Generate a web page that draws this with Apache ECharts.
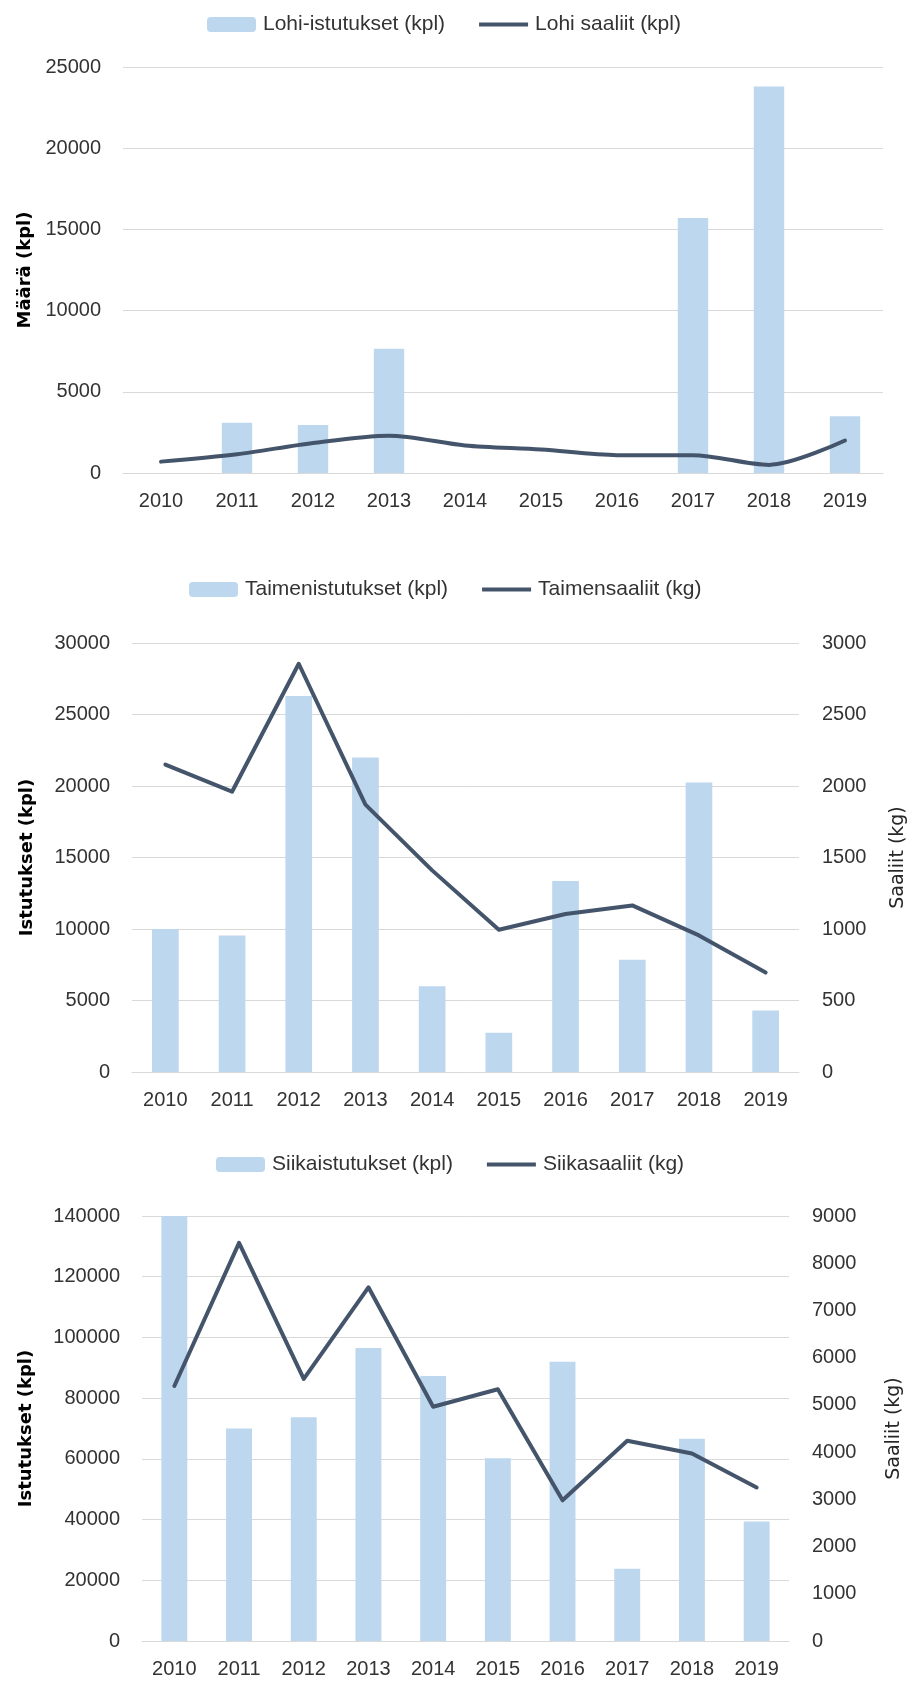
<!DOCTYPE html>
<html>
<head>
<meta charset="utf-8">
<script src="https://cdn.jsdelivr.net/npm/echarts@6/dist/echarts.min.js"></script>
<style>
  html, body { margin: 0; padding: 0; background: #fff; }
  #chart { width: 907px; height: 1684px; }
</style>
</head>
<body>
<div id="chart"></div>
<script>
// vuodet
const years = ['2010', '2011', '2012', '2013', '2014', '2015', '2016', '2017', '2018', '2019']

// Lohi
const lohiIstutukset = [null, 3100, 2950, 7650, null, null, null, 15700, 23800, 3500]
const lohiSaaliit = [700, 1150, 1850, 2300, 1700, 1450, 1100, 1100, 500, 2000]

// Taimen
const taimenIstutukset = [10000, 9550, 26300, 22000, 6000, 2750, 13350, 7850, 20250, 4300]
const taimenSaaliit = [2150, 1960, 2855, 1870, 1410, 995, 1105, 1165, 955, 695]

// Siika
const siikaIstutukset = [140000, 70000, 73700, 96500, 87300, 60200, 92000, 23800, 66600, 39400]
const siikaSaaliit = [5400, 8430, 5550, 7490, 4960, 5330, 2980, 4240, 3970, 3250]

const BAR_COLOR = '#BDD7EE'
const LINE_COLOR = '#44546A'
const GRID_COLOR = '#D9D9D9'
const TEXT_COLOR = '#333333'
const FONT = 'Liberation Sans'
// ohut viiva legendaan (ilman pistettä)
const LINE_ICON = 'path://M0,0 L53,0 L53,4.5 L0,4.5 Z'

const chart = echarts.init(document.getElementById('chart'), null, { renderer: 'canvas' })

const plain = v => String(v)

const xAxisFor = gridIndex => ({
  type: 'category',
  gridIndex,
  data: years,
  axisTick: { show: false },
  axisLine: { show: true, lineStyle: { color: GRID_COLOR, width: 1 } },
  axisLabel: { color: TEXT_COLOR, fontSize: 20, fontFamily: FONT, margin: 18, interval: 0 }
})

const leftAxis = (gridIndex, max, interval, name, nameGap) => ({
  type: 'value',
  gridIndex,
  min: 0,
  max,
  interval,
  name,
  nameLocation: 'middle',
  nameGap,
  nameTextStyle: { color: '#000', fontSize: 18, fontWeight: 'bold', fontFamily: 'DejaVu Sans' },
  axisLine: { show: false },
  axisTick: { show: false },
  axisLabel: { color: TEXT_COLOR, fontSize: 20, fontFamily: FONT, margin: 22, formatter: plain },
  splitLine: { show: true, lineStyle: { color: GRID_COLOR, width: 1 } }
})

const rightAxis = (gridIndex, max, interval, name, nameGap) => ({
  type: 'value',
  gridIndex,
  position: 'right',
  min: 0,
  max,
  interval,
  name,
  nameLocation: 'middle',
  nameGap,
  nameTextStyle: { color: '#262626', fontSize: 19, fontFamily: 'DejaVu Sans' },
  axisLine: { show: false },
  axisTick: { show: false },
  axisLabel: { color: TEXT_COLOR, fontSize: 20, fontFamily: FONT, margin: 23, formatter: plain },
  splitLine: { show: false }
})

const legendFor = (left, top, barName, lineName) => ({
  left,
  top,
  padding: 0,
  itemWidth: 49,
  itemHeight: 15,
  itemGap: 34,
  data: [barName, { name: lineName, icon: LINE_ICON }],
  textStyle: { color: TEXT_COLOR, fontSize: 21, fontFamily: FONT, padding: [0, 0, 0, 2] }
})

const barSeries = (name, xAxisIndex, yAxisIndex, data) => ({
  name,
  type: 'bar',
  xAxisIndex,
  yAxisIndex,
  data,
  barWidth: '40%',
  itemStyle: { color: BAR_COLOR },
  emphasis: { disabled: true }
})

const lineSeries = (name, xAxisIndex, yAxisIndex, data, smooth) => ({
  name,
  type: 'line',
  xAxisIndex,
  yAxisIndex,
  data,
  smooth,
  symbol: 'none',
  lineStyle: { color: LINE_COLOR, width: 4, cap: 'round', join: 'round' },
  itemStyle: { color: LINE_COLOR },
  emphasis: { disabled: true }
})

const option = {
  animation: false,
  backgroundColor: '#fff',
  legend: [
    legendFor(207, 14, 'Lohi-istutukset (kpl)', 'Lohi saaliit (kpl)'),
    legendFor(189, 579, 'Taimenistutukset (kpl)', 'Taimensaaliit (kg)'),
    legendFor(216, 1154, 'Siikaistutukset (kpl)', 'Siikasaaliit (kg)')
  ],
  grid: [
    { left: 123, right: 24, top: 67, height: 406, outerBoundsMode: 'none' },
    { left: 132, right: 108, top: 643, height: 429, outerBoundsMode: 'none' },
    { left: 142, right: 118, top: 1216, height: 425, outerBoundsMode: 'none' }
  ],
  xAxis: [xAxisFor(0), xAxisFor(1), xAxisFor(2)],
  yAxis: [
    leftAxis(0, 25000, 5000, 'Määrä (kpl)', 89),
    leftAxis(1, 30000, 5000, 'Istutukset (kpl)', 96),
    rightAxis(1, 3000, 500, 'Saaliit (kg)', 90),
    leftAxis(2, 140000, 20000, 'Istutukset (kpl)', 107),
    rightAxis(2, 9000, 1000, 'Saaliit (kg)', 96)
  ],
  series: [
    barSeries('Lohi-istutukset (kpl)', 0, 0, lohiIstutukset),
    lineSeries('Lohi saaliit (kpl)', 0, 0, lohiSaaliit, 0.3),
    barSeries('Taimenistutukset (kpl)', 1, 1, taimenIstutukset),
    lineSeries('Taimensaaliit (kg)', 1, 2, taimenSaaliit, false),
    barSeries('Siikaistutukset (kpl)', 2, 3, siikaIstutukset),
    lineSeries('Siikasaaliit (kg)', 2, 4, siikaSaaliit, false)
  ]
}

chart.setOption(option)
</script>
</body>
</html>
